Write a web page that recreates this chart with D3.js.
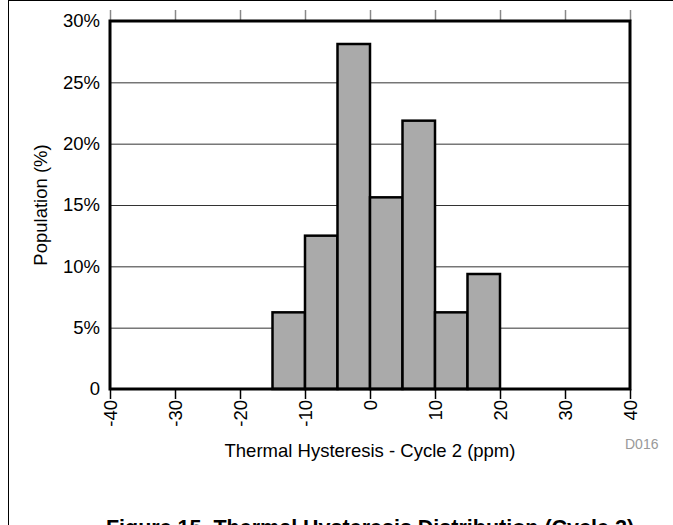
<!DOCTYPE html>
<html>
<head>
<meta charset="utf-8">
<script src="https://cdn.jsdelivr.net/npm/d3@7"></script>
<style>
  body { margin: 0; background: #fff; }
  svg { display: block; font-family: "Liberation Sans", Arial, sans-serif; }
</style>
</head>
<body>
<div id="chart"></div>
<script>
// Histogram bins (ppm) and population share (%)
var BIN_STARTS = [-15, -10, -5, 0, 5, 10, 15];
var BIN_WIDTH = 5;
var POPULATION = [6.25, 12.5, 28.125, 15.625, 21.875, 6.25, 9.375];

var X_TICKS = [-40, -30, -20, -10, 0, 10, 20, 30, 40];
var Y_TICKS = [0, 5, 10, 15, 20, 25, 30];
var Y_TICK_LABELS = ["0", "5%", "10%", "15%", "20%", "25%", "30%"];

var render = function() {
  var width = 673;
  var height = 525;
  var margins = { top: 21, right: 43, bottom: 136, left: 110 };
  var chartWidth = width - margins.left - margins.right;
  var chartHeight = height - margins.top - margins.bottom;

  var svg = d3.select("#chart")
    .append("svg")
    .attr("width", width)
    .attr("height", height);

  // page frame (left + top edges)
  svg.append("line")
    .attr("x1", 8.5).attr("x2", 8.5).attr("y1", 0).attr("y2", height)
    .attr("stroke", "#000").attr("stroke-width", 1);
  svg.append("line")
    .attr("x1", 8).attr("x2", width).attr("y1", 0.5).attr("y2", 0.5)
    .attr("stroke", "#000").attr("stroke-width", 1);

  var chart = svg.append("g")
    .attr("transform", "translate(" + margins.left + "," + margins.top + ")");

  var xScale = d3.scaleLinear().domain([-40, 40]).range([0, chartWidth]);
  var yScale = d3.scaleLinear().domain([0, 30]).range([chartHeight, 0]);

  // grid
  chart.append("g")
    .attr("class", "y grid")
    .call(d3.axisLeft(yScale).tickValues(Y_TICKS).tickSize(-chartWidth).tickFormat(""))
    .call(g => g.select(".domain").remove())
    .selectAll("line")
    .attr("stroke", "#333")
    .attr("stroke-width", 1);

  // y labels
  chart.append("g")
    .attr("class", "y axis")
    .call(d3.axisLeft(yScale).tickValues(Y_TICKS).tickSize(0).tickPadding(10)
      .tickFormat((d, i) => Y_TICK_LABELS[i]))
    .call(g => g.select(".domain").remove())
    .selectAll("text")
    .attr("font-size", "18.5px")
    .attr("fill", "#000")
    .attr("font-family", "Liberation Sans, Arial, sans-serif");

  // top ticks
  chart.append("g")
    .attr("class", "x axis top")
    .call(d3.axisTop(xScale).tickValues(X_TICKS).tickSize(11).tickFormat(""))
    .call(g => g.select(".domain").remove())
    .selectAll("line")
    .attr("stroke", "#888")
    .attr("stroke-width", 1.5);

  // bottom ticks + rotated labels
  var xAxis = chart.append("g")
    .attr("class", "x axis")
    .attr("transform", "translate(0," + chartHeight + ")")
    .call(d3.axisBottom(xScale).tickValues(X_TICKS).tickSize(10).tickFormat(d => String(d)))
    .call(g => g.select(".domain").remove());
  xAxis.selectAll("line").attr("stroke", "#000").attr("stroke-width", 1.5);
  xAxis.selectAll("text")
    .attr("font-size", "18.5px")
    .attr("font-family", "Liberation Sans, Arial, sans-serif")
    .attr("fill", "#000")
    .attr("y", 0)
    .attr("dy", "0.35em")
    .attr("text-anchor", "end")
    .attr("transform", "translate(0,11) rotate(-90)");

  // bars
  chart.append("g")
    .attr("class", "bars")
    .selectAll("rect")
    .data(POPULATION)
    .enter()
    .append("rect")
    .attr("x", (d, i) => xScale(BIN_STARTS[i]))
    .attr("y", d => yScale(d))
    .attr("width", (d, i) => xScale(BIN_STARTS[i] + BIN_WIDTH) - xScale(BIN_STARTS[i]))
    .attr("height", d => chartHeight - yScale(d))
    .attr("fill", "#aaaaaa")
    .attr("stroke", "#000")
    .attr("stroke-width", 2.5);

  // plot frame
  chart.append("rect")
    .attr("x", 0).attr("y", 0)
    .attr("width", chartWidth).attr("height", chartHeight)
    .attr("fill", "none")
    .attr("stroke", "#000")
    .attr("stroke-width", 3);

  // axis titles
  svg.append("text")
    .attr("transform", "translate(46.5," + (margins.top + chartHeight / 2) + ") rotate(-90)")
    .attr("text-anchor", "middle")
    .attr("font-size", "18.5px")
    .text("Population (%)");

  svg.append("text")
    .attr("x", margins.left + xScale(0))
    .attr("y", 456.5)
    .attr("text-anchor", "middle")
    .attr("font-size", "18.5px")
    .text("Thermal Hysteresis - Cycle 2 (ppm)");

  svg.append("text")
    .attr("x", 625)
    .attr("y", 449)
    .attr("font-size", "14px")
    .attr("fill", "#999")
    .text("D016");

  // caption sits at the page's bottom edge, as in the source
  svg.append("text")
    .attr("x", margins.left + xScale(0))
    .attr("y", 535)
    .attr("text-anchor", "middle")
    .attr("font-size", "21.5px")
    .attr("font-weight", "bold")
    .text("Figure 15. Thermal Hysteresis Distribution (Cycle 2)");
};

window.onload = render;
</script>
</body>
</html>
